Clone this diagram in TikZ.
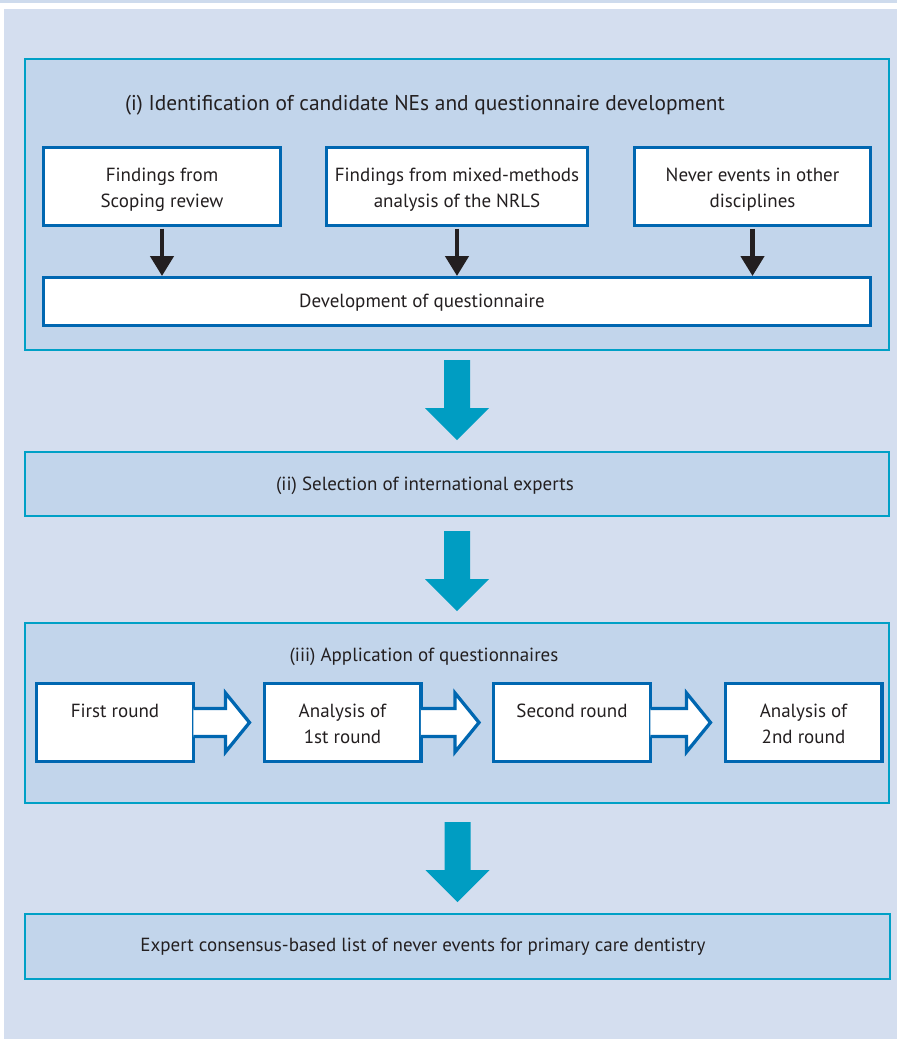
\documentclass[tikz,border=0pt]{standalone}
\usepackage{fontspec}
\setmainfont{PT Sans}
\usetikzlibrary{arrows.meta,calc,positioning}
\definecolor{nebg}{RGB}{212,222,239}
\definecolor{nepanel}{RGB}{194,213,235}
\definecolor{neteal}{RGB}{0,160,198}
\definecolor{neflow}{RGB}{0,157,194}
\definecolor{neblue}{RGB}{0,103,177}
\definecolor{netext}{RGB}{35,31,32}
\newcommand{\nlift}[1][20pt]{\rule{0pt}{#1}}

\begin{document}
\begin{tikzpicture}[x=1pt, y=-1pt,
      every node/.style={text=netext, font=\fontsize{19}{26}\selectfont},
      panel/.style={draw=neteal, fill=nepanel, line width=2pt, inner sep=0pt, minimum width=864pt},
      whitebox/.style={draw=neblue, fill=white, line width=3.3pt, inner sep=0pt, align=center, minimum height=77.7pt},
      feed/.style={draw=netext, line width=4.5pt, shorten <=1.7pt, -{Triangle[width=23pt,length=20pt]}},
      flow/.style={fill=neflow, to path={($(\tikztotarget)+(0,-11)$) -- ++(-32,-32) -- ++(19,0) -- ++(0,-48) -- ++(26,0) -- ++(0,48) -- ++(19,0) -- cycle}},
      rowarrow/.style={draw=neblue, fill=white, line width=3.3pt, to path={($(\tikztostart)+(-1.7,-14)$) -- ($(\tikztotarget)+(-37,-14)$) -- ($(\tikztotarget)+(-37,-29.5)$) -- ($(\tikztotarget)+(-13,0)$) -- ($(\tikztotarget)+(-37,29.5)$) -- ($(\tikztotarget)+(-37,14)$) -- ($(\tikztostart)+(-1.7,14)$)}}
    ]
      \useasboundingbox (0,0) rectangle (897,1039);
      \fill[nebg!97!neblue] (0,0) rectangle (897,2.5);
      \fill[nebg] (4,9) rectangle (897,1039);

      % Stage (i)
      \node[panel, minimum height=291pt] (pi) at (457,204.5) {};
      \node[font=\fontsize{21.4}{26}\selectfont] (ti) at (425,105) {(i) Identification of candidate NEs and questionnaire development};
      \node[whitebox, minimum width=236.7pt] (scoping) at (162,186.5) {\nlift Findings from\\Scoping review};
      \node[whitebox, minimum width=260.7pt] (nrls) at (457,186.5) {\nlift Findings from mixed-methods\\analysis of the NRLS};
      \node[whitebox, minimum width=235.7pt] (other) at (752.5,186.5) {\nlift Never events in other\\disciplines};
      \node[whitebox, minimum width=826.7pt, minimum height=47.7pt] (dev) at (457,301.5) {};
      \node (devtext) at (422,303) {Development of questionnaire};
      \draw[feed] (scoping.south) -- (scoping.south |- dev.north);
      \draw[feed] (nrls.south) -- (nrls.south |- dev.north);
      \draw[feed] (other.south) -- (other.south |- dev.north);

      % Stage (ii)
      \node[panel, minimum height=64pt] (pii) at (457,484) {};
      \node (tii) at (425,486) {(ii) Selection of international experts};
      \fill[flow] (pi.south) to (pii.north);

      % Stage (iii)
      \node[panel, minimum height=180pt] (piii) at (457,713) {};
      \node (tiii) at (424,657) {(iii) Application of questionnaires};
      \fill[flow] (pii.south) to (piii.north);
      \node[whitebox, minimum width=156.7pt] (first) at (115,722.5) {\nlift[16pt]First round\\\mbox{}};
      \node[whitebox, minimum width=156.7pt] (anafirst) at (342.5,722.5) {\nlift[16pt]Analysis of\\1st round};
      \node[whitebox, minimum width=156.7pt] (second) at (572,722.5) {\nlift[16pt]Second round\\\mbox{}};
      \node[whitebox, minimum width=156.7pt] (anasecond) at (803.5,722.5) {\nlift[16pt]Analysis of\\2nd round};
      \draw[rowarrow] (first.east) to (anafirst.west);
      \draw[rowarrow] (anafirst.east) to (second.west);
      \draw[rowarrow] (second.east) to (anasecond.west);

      % Outcome
      \node[panel, minimum width=865pt, minimum height=65pt] (pfinal) at (457.5,946.5) {};
      \node (tfinal) at (423,947) {Expert consensus-based list of never events for primary care dentistry};
      \fill[flow] (piii.south) to (pfinal.north);
    \end{tikzpicture}
\end{document}
